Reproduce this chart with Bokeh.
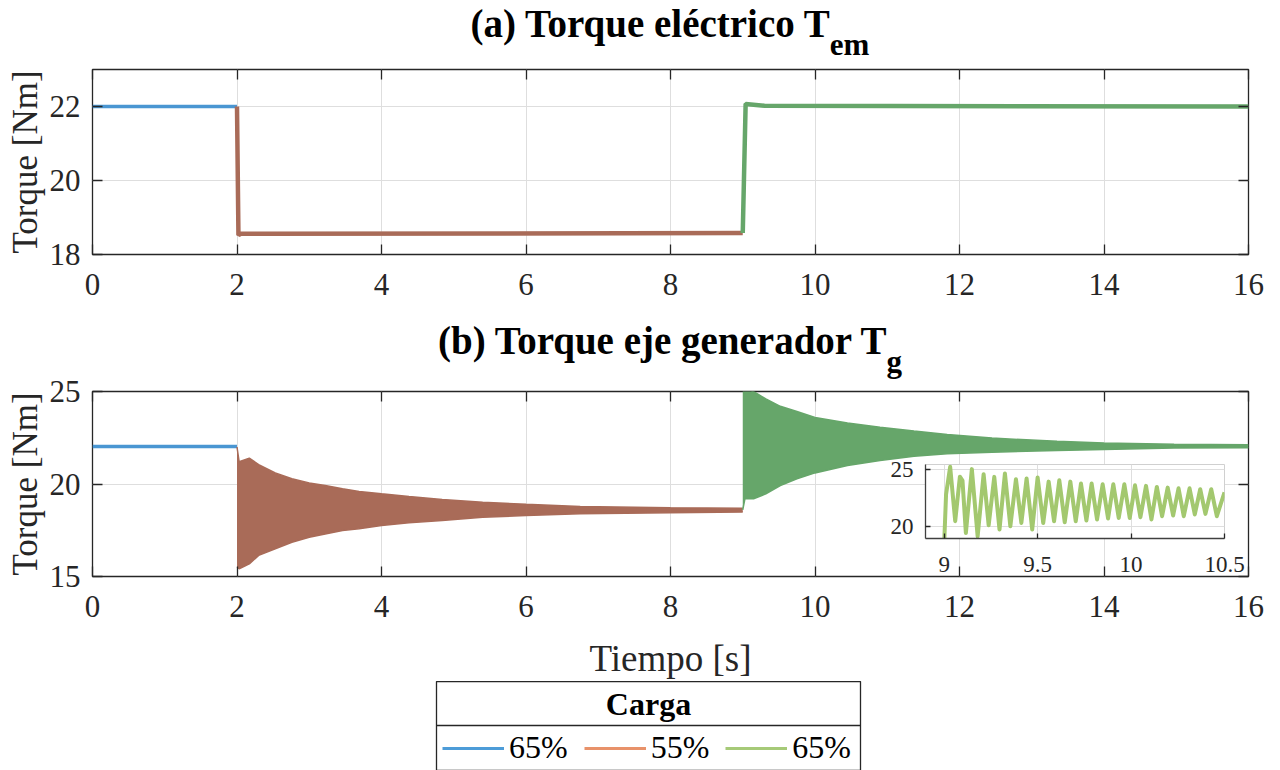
from bokeh.plotting import figure
from bokeh.models import Range1d, LinearAxis, Label, Span, Legend, LegendItem, Div
from bokeh.layouts import column
from bokeh.embed import file_html
from bokeh.resources import INLINE

FONT = "Liberation Serif"

# ---------------- data ----------------
x_ticks = [0, 2, 4, 6, 8, 10, 12, 14, 16]
ya_ticks = [18, 20, 22]
yb_ticks = [15, 20, 25]
inset_x_ticks = [9, 9.5, 10, 10.5]
inset_y_ticks = [20, 25]

# (a) electrical torque
a_t_65a = [0.0, 2.0]
a_v_65a = [22.0, 22.0]
a_t_55 = [2.0, 2.02, 2.05, 9.0]
a_v_55 = [22.0, 18.52, 18.56, 18.58]
a_t_65b = [9.0, 9.04, 9.3, 16.0]
a_v_65b = [18.58, 22.07, 22.02, 22.0]

# (b) generator shaft torque: steady part and oscillation envelopes
b_t_65a = [0.0, 2.0]
b_v_65a = [22.03, 22.03]
b_t_55 = [2.0, 2.03, 2.17, 2.30, 2.53, 2.76, 3.0, 3.22, 3.46, 3.69, 4.0, 4.38, 4.84, 5.4, 6.0, 6.75, 8.0, 9.0]
b_up_55 = [22.0, 21.2, 21.4, 21.05, 20.6, 20.28, 20.06, 19.92, 19.74, 19.6, 19.47, 19.32, 19.16, 19.02, 18.9, 18.78, 18.71, 18.69]
b_lo_55 = [15.5, 15.42, 15.68, 16.14, 16.5, 16.85, 17.12, 17.3, 17.49, 17.58, 17.76, 17.9, 18.03, 18.2, 18.3, 18.39, 18.44, 18.48]
b_t_65b = [9.0, 9.03, 9.15, 9.32, 9.52, 9.75, 10.0, 10.45, 10.9, 11.37, 11.83, 12.45, 13.35, 14.0, 14.97, 16.0]
b_up_65b = [25.2, 25.2, 25.0, 24.6, 24.2, 23.92, 23.6, 23.3, 23.07, 22.86, 22.68, 22.48, 22.31, 22.22, 22.15, 22.12]
b_lo_65b = [18.6, 19.2, 19.2, 19.47, 19.92, 20.28, 20.6, 21.0, 21.27, 21.5, 21.63, 21.72, 21.81, 21.86, 21.94, 21.96]

# inset: 9 .. 10.5 s detail (peaks and troughs)
inset_t = [9.0, 9.01, 9.032, 9.059, 9.084, 9.098, 9.116, 9.148, 9.179, 9.211, 9.238, 9.268,
           9.296, 9.325, 9.354, 9.384, 9.413, 9.441, 9.471, 9.5, 9.53, 9.559, 9.588, 9.616,
           9.645, 9.675, 9.704, 9.732, 9.761, 9.789, 9.818, 9.848, 9.877, 9.905, 9.934, 9.964,
           9.993, 10.021, 10.05, 10.08, 10.109, 10.138, 10.166, 10.196, 10.225, 10.254, 10.282,
           10.313, 10.341, 10.37, 10.398, 10.429, 10.459, 10.5]
inset_v = [18.6, 22.8, 25.2, 20.5, 24.35, 24.0, 19.48, 25.0, 19.19, 24.56, 20.15, 24.33,
           19.77, 24.62, 20.06, 24.13, 20.35, 24.19, 19.77, 24.27, 20.35, 23.92, 20.49, 24.04,
           20.41, 23.92, 20.49, 23.75, 20.55, 23.75, 20.64, 23.69, 20.73, 23.69, 20.78, 23.69,
           20.78, 23.6, 20.84, 23.55, 20.64, 23.46, 20.93, 23.4, 20.99, 23.34, 20.93,
           23.34, 21.08, 23.26, 21.13, 23.26, 20.93, 23.0]

title_a = "(a) Torque eléctrico T"
title_a_sub = "em"
title_b = "(b) Torque eje generador T"
title_b_sub = "g"
legend_title = "Carga"
legend_labels = ["65%", "55%", "65%"]

# ---------------- styles ----------------
C_BLUE = "#4A96D2"
C_RED = "#A96B58"
C_GREEN = "#66A66A"
C_GREEN_INSET = "#A3C86F"
C_LEG = ["#4D9CD8", "#E8926A", "#A6CA78"]
DARK = "#262626"
GRID = "#DEDEDE"
BL, BR = 92, 24   # common left / right borders (column aligns them)


def style_axis(ax, label_size="31px", tick_len=10, show_labels=True, standoff=12):
    ax.major_tick_in = tick_len
    ax.major_tick_out = 0
    ax.minor_tick_line_color = None
    ax.major_tick_line_color = DARK
    ax.major_tick_line_width = 1.3
    ax.axis_line_color = None
    ax.major_label_text_font = FONT
    ax.major_label_text_font_style = "normal"
    ax.major_label_text_color = DARK
    if show_labels:
        ax.major_label_text_font_size = label_size
        ax.major_label_standoff = standoff
    else:
        ax.major_label_text_font_size = "1px"
        ax.major_label_text_color = None
        ax.major_label_standoff = 0
    ax.axis_label_text_font = FONT
    ax.axis_label_text_font_style = "normal"
    ax.axis_label_text_color = DARK


def make_main(yr, yticks, top_border, bottom_border):
    p = figure(frame_width=1156, frame_height=185,
               x_range=Range1d(0, 16), y_range=Range1d(*yr),
               min_border_left=BL, min_border_right=BR,
               min_border_top=top_border, min_border_bottom=bottom_border,
               output_backend="svg", toolbar_location=None,
               border_fill_color=None)
    xb = p.xaxis[0]
    yl = p.yaxis[0]
    xb.ticker = x_ticks
    yl.ticker = yticks
    p.xgrid.ticker = x_ticks
    p.ygrid.ticker = yticks
    p.grid.grid_line_color = GRID
    p.grid.grid_line_width = 1
    p.outline_line_color = DARK
    p.outline_line_width = 1.3
    p.outline_line_alpha = 1
    style_axis(xb, standoff=19)
    style_axis(yl, standoff=12)
    yl.axis_label = "Torque [Nm]"
    yl.axis_label_text_font_size = "35px"
    yl.axis_label_standoff = 2
    ra = LinearAxis(ticker=yticks)
    style_axis(ra, show_labels=False)
    p.add_layout(ra, "right")
    ta = LinearAxis(ticker=x_ticks)
    style_axis(ta, show_labels=False)
    p.add_layout(ta, "above")
    return p, xb


def make_title(main, sub, height, pad):
    html = ('<div style="padding-top:%dpx">%s<span style="position:relative;top:18px;'
            'font-size:31px">%s</span></div>' % (pad, main, sub))
    return Div(text=html, width=1156, height=height, margin=(0, 0, 0, BL),
               styles={"font-family": FONT, "font-size": "39px", "font-weight": "bold",
                       "line-height": "32px", "text-align": "center", "color": "black",
                       "white-space": "nowrap", "overflow": "visible"})


# ---------------- (a) ----------------
d1 = make_title(title_a, title_a_sub, 64, 8)
p1, _ = make_main((18, 23), ya_ticks, 5, 50)
p1.line(a_t_65a, a_v_65a, line_color=C_BLUE, line_width=3.5)
p1.line(a_t_55, a_v_55, line_color=C_RED, line_width=4.5)
p1.line(a_t_65b, a_v_65b, line_color=C_GREEN, line_width=4.5)

# ---------------- (b) ----------------
D2_H, P2_TOP = 71, 16
d2 = make_title(title_b, title_b_sub, D2_H, 21)
p2, xb2 = make_main((15, 25), yb_ticks, P2_TOP, 104)
p2.line(b_t_65a, b_v_65a, line_color=C_BLUE, line_width=3.5)
p2.varea(x=b_t_55, y1=b_lo_55, y2=b_up_55, fill_color=C_RED)
p2.line(b_t_55, b_up_55, line_color=C_RED, line_width=1.5)
p2.line(b_t_55, b_lo_55, line_color=C_RED, line_width=1.5)
p2.varea(x=b_t_65b, y1=b_lo_65b, y2=b_up_65b, fill_color=C_GREEN)
p2.line(b_t_65b, b_up_65b, line_color=C_GREEN, line_width=1.5)
p2.line(b_t_65b, b_lo_65b, line_color=C_GREEN, line_width=1.5)
xb2.axis_label = "Tiempo [s]"
xb2.axis_label_text_font_size = "37px"
xb2.axis_label_standoff = 18

# ---------------- legend box ----------------
LEG_H = 90
leg = figure(frame_width=424, frame_height=LEG_H, x_range=Range1d(0, 424), y_range=Range1d(0, LEG_H),
             min_border_left=BL, min_border_right=BR, min_border_top=0, min_border_bottom=0,
             x_axis_location=None, y_axis_location=None,
             output_backend="svg", toolbar_location=None, border_fill_color=None)
leg.grid.visible = False
leg.outline_line_color = DARK
leg.outline_line_width = 1.3
leg.margin = (0, 0, 0, 436 - BL)
nan = float("nan")
rs = [leg.line(x=[nan], y=[nan], line_color=c, line_width=3) for c in C_LEG]
legend = Legend(items=[LegendItem(label=l, renderers=[r]) for l, r in zip(legend_labels, rs)],
                orientation="horizontal", location=(6, 5),
                glyph_width=62, glyph_height=30, label_standoff=5, spacing=16,
                padding=0, margin=0, border_line_color=None, background_fill_alpha=0,
                label_text_font=FONT, label_text_font_size="32px", label_text_color="black")
leg.add_layout(legend, "center")
leg.add_layout(Span(location=LEG_H - 44, dimension="width", line_color=DARK, line_width=1.3))
leg.add_layout(Label(x=212, y=LEG_H - 22, x_units="screen", y_units="screen", text=legend_title,
                     text_align="center", text_baseline="middle", text_font=FONT,
                     text_font_size="32px", text_font_style="bold", text_color="black"))

# ---------------- inset ----------------
INS_TOP = 12
ins = figure(frame_width=299, frame_height=74,
             x_range=Range1d(8.9, 10.5), y_range=Range1d(19.0, 25.4),
             min_border_left=BL, min_border_right=BR, min_border_top=INS_TOP, min_border_bottom=40,
             output_backend="svg", toolbar_location=None,
             border_fill_color=None, background_fill_color="white")
ins.xaxis.ticker = inset_x_ticks
ins.yaxis.ticker = inset_y_ticks
ins.xgrid.ticker = inset_x_ticks
ins.ygrid.ticker = inset_y_ticks
ins.grid.grid_line_color = GRID
ins.outline_line_color = "#D0D0D0"
style_axis(ins.xaxis[0], label_size="23px", tick_len=5, standoff=18)
style_axis(ins.yaxis[0], label_size="23px", tick_len=5, standoff=12)
for ax in (ins.xaxis[0], ins.yaxis[0]):
    ax.axis_line_color = "#404040"
    ax.axis_line_width = 1.3
ins.line(inset_t, inset_v, line_color=C_GREEN_INSET, line_width=4, line_join="round")
total_h = 64 + (5 + 185 + 50) + D2_H + (P2_TOP + 185 + 104) + LEG_H
ins.margin = (463 - INS_TOP - total_h, 0, 0, 925 - BL)

layout = column(d1, p1, d2, p2, leg, ins)
open("out.html", "w").write(file_html(layout, INLINE))
